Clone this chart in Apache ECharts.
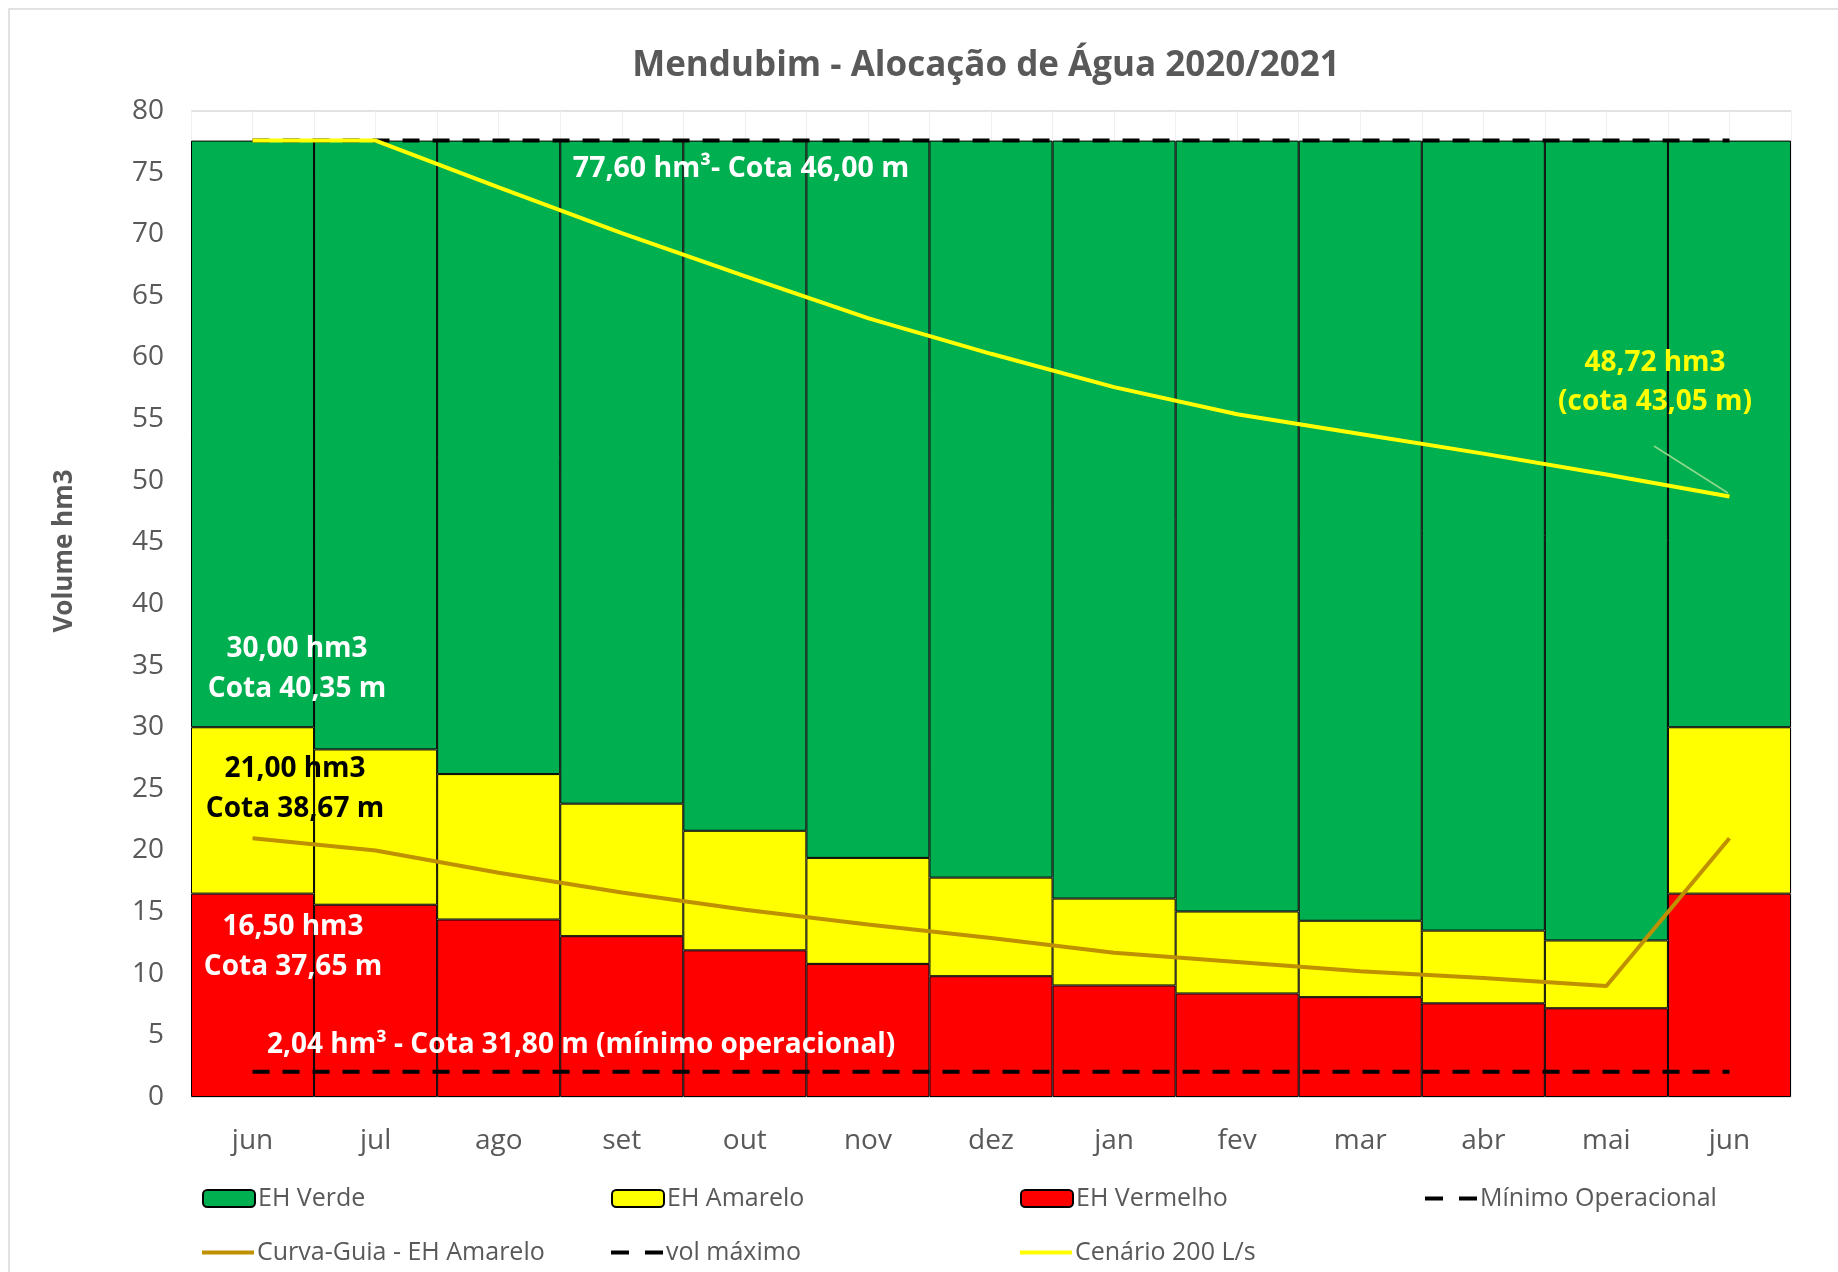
<!DOCTYPE html>
<html>
<head>
<meta charset="utf-8">
<title>Mendubim - Alocação de Água 2020/2021</title>
<script src="https://cdn.jsdelivr.net/npm/echarts@6/dist/echarts.min.js"></script>
<style>
html, body { margin: 0; padding: 0; background: #fff; }
#chart { width: 1838px; height: 1272px; }
</style>
</head>
<body>
<div id="chart"></div>
<script>
// valores (hm3)
const meses = ['jun', 'jul', 'ago', 'set', 'out', 'nov', 'dez', 'jan', 'fev', 'mar', 'abr', 'mai', 'jun'];
const limVermelho = [16.5, 15.6, 14.4, 13.05, 11.9, 10.8, 9.8, 9.05, 8.4, 8.1, 7.6, 7.2, 16.5];
const limAmarelo = [30.0, 28.2, 26.2, 23.8, 21.6, 19.4, 17.8, 16.1, 15.05, 14.3, 13.5, 12.7, 30.0];
const volMaximo = [77.6, 77.6, 77.6, 77.6, 77.6, 77.6, 77.6, 77.6, 77.6, 77.6, 77.6, 77.6, 77.6];
const minimoOperacional = [2.04, 2.04, 2.04, 2.04, 2.04, 2.04, 2.04, 2.04, 2.04, 2.04, 2.04, 2.04, 2.04];
const curvaGuia = [21.0, 20.0, 18.2, 16.6, 15.2, 14.0, 12.9, 11.7, 10.95, 10.2, 9.65, 9.0, 21.0];
const cenario200 = [77.6, 77.6, 73.8, 70.1, 66.6, 63.2, 60.3, 57.6, 55.4, 53.8, 52.2, 50.5, 48.72];
const yTicks = { min: 0, max: 80, interval: 5 };

const FONT = '"Open Sans", "Noto Sans", sans-serif';
const CINZA = '#595959';

// faixas empilhadas
const faixaVermelha = limVermelho;
const faixaAmarela = limAmarelo.map((v, i) => +(v - limVermelho[i]).toFixed(2));
const faixaVerde = volMaximo.map((v, i) => +(v - limAmarelo[i]).toFixed(2));

// ícones da legenda para as linhas
const ICON_LINHA = 'path://M0,0h52v4h-52z';
const ICON_TRACO = 'path://M0,0h18v4h-18zM34,0h18v4h-18z';

const myEcharts = echarts.init(document.getElementById('chart'));

function legenda(nome, left, top, icon) {
    return {
        data: [icon ? { name: nome, icon: icon } : nome],
        left: left,
        top: top,
        padding: 0,
        itemWidth: 52,
        itemHeight: icon ? 4 : 17,
        selectedMode: false,
        textStyle: { fontSize: 25, color: CINZA, fontFamily: FONT, padding: [0, 0, 0, -2] }
    };
}

const option = {
    backgroundColor: '#fff',
    animation: false,
    title: {
        text: 'Mendubim - Alocação de Água 2020/2021',
        left: 981,
        top: 44,
        textAlign: 'center',
        textStyle: { fontSize: 35, fontWeight: 'bold', color: CINZA, fontFamily: FONT }
    },
    grid: { left: 191, right: 47, top: 111, bottom: 175 },
    legend: [
        legenda('EH Verde', 202, 1186),
        legenda('EH Amarelo', 611, 1186),
        legenda('EH Vermelho', 1020, 1186),
        legenda('Mínimo Operacional', 1425, 1186, ICON_TRACO),
        legenda('Curva-Guia - EH Amarelo', 202, 1240, ICON_LINHA),
        legenda('vol máximo', 611, 1240, ICON_TRACO),
        legenda('Cenário 200 L/s', 1020, 1240, ICON_LINHA)
    ],
    xAxis: [{
        type: 'category',
        data: meses,
        boundaryGap: true,
        axisLine: { show: false },
        axisTick: { show: false },
        axisLabel: { fontSize: 28, color: CINZA, fontFamily: FONT, margin: 30 },
        splitLine: { show: false }
    }, {
        // linhas de grade verticais (visíveis só acima das barras)
        type: 'value',
        min: 0,
        max: 13,
        interval: 0.5,
        show: true,
        axisLine: { show: false },
        axisTick: { show: false },
        axisLabel: { show: false },
        splitLine: { show: true, lineStyle: { color: '#EFEFEF', width: 1 } }
    }],
    yAxis: {
        type: 'value',
        min: yTicks.min,
        max: yTicks.max,
        interval: yTicks.interval,
        name: 'Volume hm3',
        nameLocation: 'middle',
        nameGap: 113,
        nameTextStyle: { fontSize: 26, fontWeight: 'bold', color: CINZA, fontFamily: FONT, padding: [0, 0, 0, 106] },
        axisLine: { show: false },
        axisTick: { show: false },
        axisLabel: { fontSize: 28, color: CINZA, fontFamily: FONT, margin: 27 },
        splitLine: { show: true, lineStyle: { color: '#D9D9D9', width: 1.5 } }
    },
    series: [
        {
            name: 'EH Vermelho',
            type: 'bar',
            stack: 'eh',
            barCategoryGap: '0%',
            itemStyle: { color: '#FF0000', borderColor: '#000', borderWidth: 1 },
            data: faixaVermelha
        },
        {
            name: 'EH Amarelo',
            type: 'bar',
            stack: 'eh',
            barCategoryGap: '0%',
            itemStyle: { color: '#FFFF00', borderColor: '#000', borderWidth: 1 },
            data: faixaAmarela
        },
        {
            name: 'EH Verde',
            type: 'bar',
            stack: 'eh',
            barCategoryGap: '0%',
            itemStyle: { color: '#00B050', borderColor: '#000', borderWidth: 1 },
            data: faixaVerde
        },
        {
            name: 'Curva-Guia - EH Amarelo',
            type: 'line',
            symbol: 'none',
            z: 3,
            lineStyle: { color: '#BF9000', width: 4 },
            itemStyle: { color: '#BF9000' },
            data: curvaGuia
        },
        {
            name: 'vol máximo',
            type: 'line',
            symbol: 'none',
            z: 3,
            lineStyle: { color: '#000', width: 4, type: [17, 13] },
            itemStyle: { color: '#000' },
            data: volMaximo
        },
        {
            name: 'Mínimo Operacional',
            type: 'line',
            symbol: 'none',
            z: 3,
            lineStyle: { color: '#000', width: 4, type: [17, 13] },
            itemStyle: { color: '#000' },
            data: minimoOperacional
        },
        {
            name: 'Cenário 200 L/s',
            type: 'line',
            symbol: 'none',
            z: 4,
            lineStyle: { color: '#FFFF00', width: 4 },
            itemStyle: { color: '#FFFF00' },
            data: cenario200
        }
    ],
    graphic: [
        {
            type: 'rect',
            silent: true,
            shape: { x: 9, y: 9, width: 1850, height: 1290 },
            style: { fill: 'none', stroke: '#D9D9D9', lineWidth: 1.5 }
        },
        {
            type: 'text', x: 741, y: 169, z: 10,
            style: { text: '77,60 hm³- Cota 46,00 m', fill: '#fff', align: 'center', verticalAlign: 'middle',
                fontSize: 28.5, fontWeight: 'bold', fontFamily: FONT }
        },
        {
            type: 'text', x: 297, y: 669, z: 10,
            style: { text: '30,00 hm3\nCota 40,35 m', fill: '#fff', align: 'center', verticalAlign: 'middle',
                lineHeight: 40, fontSize: 28, fontWeight: 'bold', fontFamily: FONT }
        },
        {
            type: 'text', x: 295, y: 789, z: 10,
            style: { text: '21,00 hm3\nCota 38,67 m', fill: '#000', align: 'center', verticalAlign: 'middle',
                lineHeight: 40, fontSize: 28, fontWeight: 'bold', fontFamily: FONT }
        },
        {
            type: 'text', x: 293, y: 947, z: 10,
            style: { text: '16,50 hm3\nCota 37,65 m', fill: '#fff', align: 'center', verticalAlign: 'middle',
                lineHeight: 40, fontSize: 28, fontWeight: 'bold', fontFamily: FONT }
        },
        {
            type: 'text', x: 267, y: 1045, z: 10,
            style: { text: '2,04 hm³ - Cota 31,80 m (mínimo operacional)', fill: '#fff', align: 'left', verticalAlign: 'middle',
                fontSize: 28, fontWeight: 'bold', fontFamily: FONT }
        },
        {
            type: 'text', x: 1655, y: 383, z: 10,
            style: { text: '48,72 hm3\n(cota 43,05 m)', fill: '#FFFF00', align: 'center', verticalAlign: 'middle',
                lineHeight: 39, fontSize: 28, fontWeight: 'bold', fontFamily: FONT }
        },
        {
            type: 'line', z: 10, silent: true,
            shape: { x1: 1654, y1: 446, x2: 1728, y2: 493 },
            style: { stroke: '#8FD98A', lineWidth: 1.5 }
        }
    ]
};

myEcharts.setOption(option);
</script>
</body>
</html>
